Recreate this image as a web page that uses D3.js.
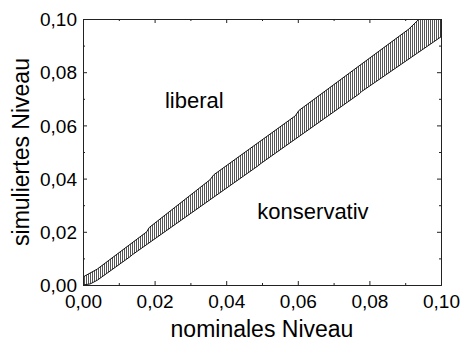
<!DOCTYPE html>
<html><head><meta charset="utf-8">
<script src="https://cdn.jsdelivr.net/npm/d3@7"></script>
<style>body{margin:0;background:#fff}svg{display:block}text{font-family:"Liberation Sans",Arial,sans-serif;fill:#000}</style>
</head><body>
<script>
// ---- data ----
const xTickValues = [0, 0.02, 0.04, 0.06, 0.08, 0.10];
const yTickValues = [0, 0.02, 0.04, 0.06, 0.08, 0.10];
const minorTickValues = [0.01, 0.03, 0.05, 0.07, 0.09];
const xTitle = "nominales Niveau";
const yTitle = "simuliertes Niveau";
const regionLabels = ["liberal", "konservativ"];
const regionLabelPos = [[0.0229, 0.0665], [0.0487, 0.0250]];
// upper boundary of the acceptance band (nominal, simulated)
const upperBoundary = [
  [0.0000, 0.0030], [0.0040, 0.0060], [0.0178, 0.0200], [0.0185, 0.0216],
  [0.0355, 0.0396], [0.0365, 0.0414], [0.0593, 0.0636], [0.0603, 0.0656],
  [0.0910, 0.0962], [0.0939, 0.1000], [0.1000, 0.1000]
];
// lower boundary of the acceptance band
const lowerBoundary = [
  [0.1000, 0.0933], [0.0778, 0.0727], [0.0772, 0.0719], [0.0497, 0.0457],
  [0.0491, 0.0450], [0.0138, 0.0114], [0.0132, 0.0107], [0.0040, 0.0018],
  [0.0020, 0.0004], [0.0000, 0.0000]
];

// ---- drawing ----
const W = 460, H = 342;
const mLeft = 83, mRight = 441, mTop = 19, mBottom = 285;
const x = d3.scaleLinear().domain([0, 0.1]).range([mLeft, mRight]);
const y = d3.scaleLinear().domain([0, 0.1]).range([mBottom, mTop]);
const loc = d3.formatLocale({decimal: ",", thousands: ".", grouping: [3], currency: ["", "€"]});
const fmt = loc.format(".2f");

const svg = d3.select("body").append("svg").attr("width", W).attr("height", H);
const defs = svg.append("defs");
const pat = defs.append("pattern").attr("id", "hatch").attr("patternUnits", "userSpaceOnUse")
  .attr("width", 2).attr("height", 4);
pat.append("rect").attr("width", 2).attr("height", 4).attr("fill", "#fff");
pat.append("rect").attr("x", 0).attr("width", 1).attr("height", 4).attr("fill", "#555");
defs.append("clipPath").attr("id", "clip").append("rect")
  .attr("x", mLeft).attr("y", mTop).attr("width", mRight - mLeft).attr("height", mBottom - mTop);

const poly = upperBoundary.concat(lowerBoundary);
svg.append("path")
  .attr("clip-path", "url(#clip)")
  .attr("d", d3.line().x(d => x(d[0])).y(d => y(d[1]))(poly) + "Z")
  .attr("fill", "url(#hatch)").attr("stroke", "#111").attr("stroke-width", 1);

// axes (ticks inward on all four sides)
function axisG(axis, tx, ty) {
  return svg.append("g").attr("transform", `translate(${tx},${ty})`).call(axis);
}
const gx = axisG(d3.axisBottom(x).tickValues(xTickValues).tickFormat(fmt).tickSizeInner(-4).tickSizeOuter(0).tickPadding(10), 0, mBottom);
const gxm = axisG(d3.axisBottom(x).tickValues(minorTickValues).tickFormat("").tickSizeInner(-2).tickSizeOuter(0), 0, mBottom);
const gy = axisG(d3.axisLeft(y).tickValues(yTickValues).tickFormat(fmt).tickSizeInner(-4).tickSizeOuter(0).tickPadding(10), mLeft, 0);
const gym = axisG(d3.axisLeft(y).tickValues(minorTickValues).tickFormat("").tickSizeInner(-2).tickSizeOuter(0), mLeft, 0);
const gt = axisG(d3.axisTop(x).tickValues(xTickValues).tickFormat("").tickSizeInner(-4).tickSizeOuter(0), 0, mTop);
const gtm = axisG(d3.axisTop(x).tickValues(minorTickValues).tickFormat("").tickSizeInner(-2).tickSizeOuter(0), 0, mTop);
const gr = axisG(d3.axisRight(y).tickValues(yTickValues).tickFormat("").tickSizeInner(-4).tickSizeOuter(0), mRight, 0);
const grm = axisG(d3.axisRight(y).tickValues(minorTickValues).tickFormat("").tickSizeInner(-2).tickSizeOuter(0), mRight, 0);
[gx, gxm, gy, gym, gt, gtm, gr, grm].forEach(g => {
  g.select(".domain").attr("stroke", "#222");
  g.selectAll(".tick line").attr("stroke", "#222");
  g.selectAll("text").attr("font-size", 19).attr("font-family", '"Liberation Sans",Arial,sans-serif').attr("fill", "#000");
});
gx.selectAll(".tick text").attr("dy", null).attr("y", 23);
gy.selectAll(".tick text").attr("x", -6).attr("dy", "0.35em");

// axis titles
svg.append("text").attr("x", (mLeft + mRight) / 2).attr("y", 337).attr("text-anchor", "middle")
  .attr("font-size", 23).text(xTitle);
svg.append("text").attr("transform", `translate(29,${(mTop + mBottom) / 2}) rotate(-90)`)
  .attr("text-anchor", "middle").attr("font-size", 23).text(yTitle);

// region labels
svg.selectAll(".rl").data(regionLabels).enter().append("text")
  .attr("x", (d, i) => x(regionLabelPos[i][0])).attr("y", (d, i) => y(regionLabelPos[i][1]))
  .attr("font-size", 22).text(d => d);
</script>
</body></html>
